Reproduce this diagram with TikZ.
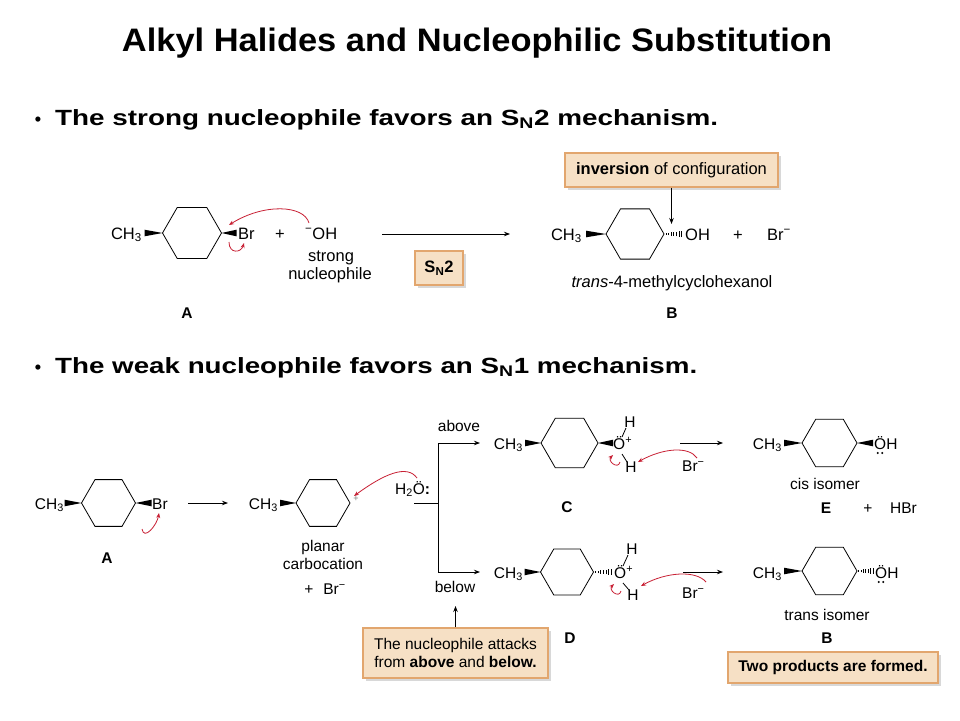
\documentclass[tikz,border=0pt]{standalone}
\usepackage{fontspec}
\setmainfont{Liberation Sans}
\usepackage{graphicx}
\usetikzlibrary{calc,arrows.meta,shadows}
\definecolor{boxfill}{RGB}{246,224,197}
\definecolor{boxline}{RGB}{226,166,110}
\definecolor{pushred}{RGB}{200,32,52}
\newcommand{\topfont}{\fontsize{16.5}{19}\selectfont}
\newcommand{\botfont}{\fontsize{15.5}{18}\selectfont}
\tikzstyle{lbl}=[inner sep=0pt, font=\topfont]
\tikzstyle{blbl}=[inner sep=0pt, font=\botfont]
\tikzstyle{tag}=[inner sep=0pt, font=\botfont\bfseries]
\tikzstyle{note}=[draw=boxline, fill=boxfill, line width=1.4pt, inner sep=0pt, align=center, drop shadow={opacity=0.3, shadow xshift=2.5pt, shadow yshift=-2.5pt}]
\tikzstyle{rxn}=[line width=0.8pt, -{Stealth[length=6pt,width=4.5pt]}]
\tikzstyle{push}=[pushred, line width=0.8pt, -{Stealth[length=5pt,width=4pt]}]
\tikzstyle{ringline}=[line width=0.8pt]
% ring: name, x, y, radius
\newcommand{\hexring}[4]{%
  \coordinate (#1) at (#2,#3);
  \draw[ringline] (#1) +(0:#4) -- +(60:#4) -- +(120:#4) -- +(180:#4) -- +(240:#4) -- +(300:#4) -- cycle;
  \coordinate (#1-l) at ($(#1)+(180:#4)$);
  \coordinate (#1-r) at ($(#1)+(0:#4)$);
}
% bonds: start, length
\newcommand{\wedgebond}[2]{\fill (#1) -- ($(#1)+(#2,3.3)$) -- ($(#1)+(#2,-3.3)$) -- cycle;}
\newcommand{\hashbond}[2]{\foreach \t in {0.1,0.23,0.36,0.49,0.62,0.75,0.88}{\draw[line width=0.7pt] ($(#1)+({#2*\t},{0.6+2.8*\t})$) -- ($(#1)+({#2*\t},{-0.6-2.8*\t})$);}}
\newcommand{\pairbelow}[1]{\fill ($(#1)+(-2.2,4)$) circle (1.1pt) ($(#1)+(2.2,4)$) circle (1.1pt);}

\begin{document}
\begin{tikzpicture}[x=1pt,y=-1pt]
\useasboundingbox[fill=white] (0,0) rectangle (960,720);
% Titel
\node[anchor=base] (title) at (477,51) {\resizebox{710pt}{\height}{\fontsize{32.5}{36}\selectfont\bfseries Alkyl Halides and Nucleophilic Substitution}};
\node[anchor=base] (dot1) at (38,125) {\fontsize{18}{20}\selectfont\bfseries •};
\node[anchor=base west, inner sep=0pt] (line1) at (55,125) {\resizebox{663pt}{\height}{\fontsize{22}{26}\selectfont\bfseries The strong nucleophile favors an S\textsubscript{N}2 mechanism.}};
\node[anchor=base] (dot2) at (38,373) {\fontsize{18}{20}\selectfont\bfseries •};
\node[anchor=base west, inner sep=0pt] (line2) at (55,373) {\resizebox{642pt}{\height}{\fontsize{22}{26}\selectfont\bfseries The weak nucleophile favors an S\textsubscript{N}1 mechanism.}};

% SN2
\hexring{ra}{192}{233}{29.5}
\node[lbl, anchor=base east] (mea) at (142,239) {CH\textsubscript{3}};
\wedgebond{ra-l}{-18}
\wedgebond{ra-r}{15}
\node[lbl, anchor=base west] (bra) at (238,239) {Br};
\node[lbl, anchor=base] (plusa) at (280,239) {+};
\node[lbl, anchor=base west] (oha) at (305,239) {\textsuperscript{−}OH};
\node[lbl, anchor=base] (stronga) at (331,261) {strong};
\node[lbl, anchor=base] (nua) at (330,279) {nucleophile};
\node[tag, anchor=base] (taga) at (187,318) {A};
\coordinate (p1s) at (309,223);
\coordinate (p1e) at (229,225);
\draw[push] (p1s) .. controls +(-5,-18) and +(35,-22) .. (p1e);
\coordinate (p2s) at (229,242);
\coordinate (p2e) at (244,243);
\draw[push] (p2s) .. controls +(0,12) and +(-3,10) .. (p2e);
\coordinate (r1s) at (382,234);
\coordinate (r1e) at (510,234);
\draw[rxn] (r1s) -- (r1e);
\node[note, minimum width=48pt, minimum height=34pt, font=\topfont\bfseries] (sn2) at (439,268) {S\textsubscript{N}2};
\node[note, minimum width=213pt, minimum height=34pt, font=\topfont] (inv) at (671.5,170) {\textbf{inversion} of configuration};
\coordinate (invt) at (671.5,224);
\draw[rxn] (inv.south) -- (invt);
\hexring{rb}{635}{234}{29}
\node[lbl, anchor=base east] (meb) at (582,240) {CH\textsubscript{3}};
\wedgebond{rb-l}{-20}
\hashbond{rb-r}{20}
\node[lbl, anchor=base west] (ohb) at (685,240) {OH};
\node[lbl, anchor=base] (plusb) at (738,240) {+};
\node[lbl, anchor=base west] (brb) at (767,240) {Br\textsuperscript{−}};
\node[lbl, anchor=base] (nameb) at (672,287) {\textit{trans}-4-methylcyclohexanol};
\node[tag, anchor=base] (tagb) at (672,318) {B};

% SN1
\hexring{rc}{108.5}{503}{27}
\node[blbl, anchor=base east] (mec) at (64,509) {CH\textsubscript{3}};
\wedgebond{rc-l}{-17}
\wedgebond{rc-r}{16}
\node[blbl, anchor=base west] (brc) at (152,509) {Br};
\coordinate (p3s) at (142,529);
\coordinate (p3e) at (159,513);
\draw[push] (p3s) .. controls +(2,12) and +(-2,12) .. (p3e);
\node[tag, anchor=base] (tagc) at (107,563) {A};
\coordinate (r2s) at (188,503);
\coordinate (r2e) at (228,503);
\draw[rxn] (r2s) -- (r2e);
\hexring{rd}{323}{503}{27}
\node[blbl, anchor=base east] (med) at (278,509) {CH\textsubscript{3}};
\wedgebond{rd-l}{-16}
\node[font=\fontsize{9}{9}\selectfont, text=gray, inner sep=0pt] (cation) at (356,499) {+};
\node[blbl, anchor=base west] (water) at (395,494) {H\textsubscript{2}Ö\textbf{:}};
\coordinate (p4s) at (417,478);
\coordinate (p4e) at (354,496);
\draw[push] (p4s) .. controls +(-10,-14) and +(30,-22) .. (p4e);
\node[blbl, anchor=base] (planar) at (323,551) {planar};
\node[blbl, anchor=base] (carbo) at (323,569) {carbocation};
\node[blbl, anchor=base] (brd) at (325,594) {+\hspace{10pt}Br\textsuperscript{−}};
% Verzweigung
\coordinate (wt) at (414,503);
\coordinate (fork) at (438,503);
\coordinate (up) at (438,443);
\coordinate (dn) at (438,572);
\coordinate (upe) at (480,443);
\coordinate (dne) at (480,572);
\draw[ringline] (wt) -- (fork);
\draw[ringline] (up) -- (dn);
\draw[rxn] (up) -- (upe);
\draw[rxn] (dn) -- (dne);
\node[blbl, anchor=base] (above) at (459,431) {above};
\node[blbl, anchor=base] (below) at (455,592) {below};

% C
\hexring{re}{569.5}{443}{28.5}
\node[blbl, anchor=base east] (mee) at (523,449) {CH\textsubscript{3}};
\wedgebond{re-l}{-16}
\wedgebond{re-r}{15}
\node[blbl, anchor=base west] (oxc) at (613,449) {Ö\textsuperscript{+}};
\node[blbl, anchor=base] (hc1) at (630,427) {H};
\node[blbl, anchor=base] (hc2) at (631,472) {H};
\draw[ringline] ($(oxc.base west)+(9,-12)$) -- ($(hc1.base)+(-4,1)$);
\draw[ringline] ($(oxc.base west)+(9,5)$) -- ($(hc2.base)+(-4,-10)$);
\node[blbl, anchor=base west] (bre) at (682,471) {Br\textsuperscript{−}};
\coordinate (p5s) at (697,458);
\coordinate (p5e) at (638,462);
\draw[push] (p5s) .. controls +(-8,-12) and +(25,-14) .. (p5e);
\coordinate (p6s) at (620,462);
\coordinate (p6e) at (613,455);
\draw[push] (p6s) .. controls +(-2,8) and +(-6,6) .. (p6e);
\coordinate (r3s) at (680,443);
\coordinate (r3e) at (723,443);
\draw[rxn] (r3s) -- (r3e);
\node[tag, anchor=base] (tagcc) at (567,512) {C};

% D
\hexring{rf}{567}{572}{26.5}
\node[blbl, anchor=base east] (mef) at (523,578) {CH\textsubscript{3}};
\wedgebond{rf-l}{-16}
\hashbond{rf-r}{20}
\node[blbl, anchor=base west] (oxd) at (614,578) {Ö\textsuperscript{+}};
\node[blbl, anchor=base] (hd1) at (632,554) {H};
\node[blbl, anchor=base] (hd2) at (633,600) {H};
\draw[ringline] ($(oxd.base west)+(9,-12)$) -- ($(hd1.base)+(-4,1)$);
\draw[ringline] ($(oxd.base west)+(9,5)$) -- ($(hd2.base)+(-4,-10)$);
\node[blbl, anchor=base west] (brf) at (682,598) {Br\textsuperscript{−}};
\coordinate (p7s) at (706,582);
\coordinate (p7e) at (641,586);
\draw[push] (p7s) .. controls +(-10,-12) and +(25,-14) .. (p7e);
\coordinate (p8s) at (621,591);
\coordinate (p8e) at (614,584);
\draw[push] (p8s) .. controls +(-2,8) and +(-6,6) .. (p8e);
\coordinate (r4s) at (683,572);
\coordinate (r4e) at (723,572);
\draw[rxn] (r4s) -- (r4e);
\node[tag, anchor=base] (tagd) at (570,643) {D};
\node[note, minimum width=185pt, minimum height=50pt, font=\botfont] (attack) at (455.5,653) {The nucleophile attacks\\from \textbf{above} and \textbf{below.}};
\coordinate (att) at (455.5,606);
\draw[rxn] (attack.north) -- (att);

% E
\hexring{rg}{829.5}{443}{27.5}
\node[blbl, anchor=base east] (meg) at (782,449) {CH\textsubscript{3}};
\wedgebond{rg-l}{-18}
\wedgebond{rg-r}{16}
\node[blbl, anchor=base west] (ohg) at (874,449) {ÖH};
\coordinate (lpg) at ($(ohg.base west)+(6,0)$);
\pairbelow{lpg}
\node[blbl, anchor=base] (cis) at (825,489) {cis isomer};
\node[tag, anchor=base] (tage) at (826,513) {E};
\node[blbl, anchor=base] (pluse) at (868,513) {+};
\node[blbl, anchor=base west] (hbr) at (890,513) {HBr};

% B
\hexring{rh}{829.5}{571}{27.5}
\node[blbl, anchor=base east] (meh) at (782,578) {CH\textsubscript{3}};
\wedgebond{rh-l}{-18}
\hashbond{rh-r}{18}
\node[blbl, anchor=base west] (ohh) at (875,578) {ÖH};
\coordinate (lph) at ($(ohh.base west)+(6,0)$);
\pairbelow{lph}
\node[blbl, anchor=base] (trans) at (827,620) {trans isomer};
\node[tag, anchor=base] (tagbb) at (827,643) {B};
\node[note, minimum width=210pt, minimum height=31pt, font=\botfont\bfseries] (two) at (833,667.5) {Two products are formed.};
\end{tikzpicture}
\end{document}
